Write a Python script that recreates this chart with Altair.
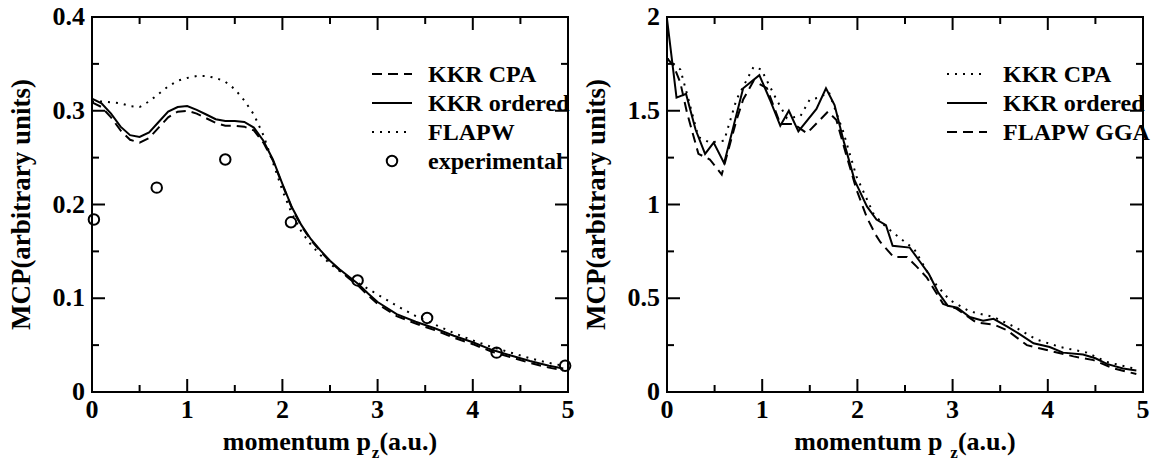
import altair as alt
import pandas as pd

# ---------------- data ----------------
# Left panel
L_x = [0, 0.1, 0.2, 0.3, 0.4, 0.5, 0.6, 0.7, 0.8, 0.9, 1.0, 1.1, 1.2, 1.3, 1.4, 1.5,
       1.6, 1.7, 1.8, 1.9, 2.0, 2.1, 2.2, 2.3, 2.4, 2.5, 2.6, 2.7, 2.8, 2.9, 3.0,
       3.2, 3.4, 3.6, 3.8, 4.0, 4.2, 4.4, 4.6, 4.8, 4.95]
L_kkr_cpa = [0.309, 0.304, 0.293, 0.279, 0.269, 0.266, 0.271, 0.282, 0.293, 0.299, 0.300,
             0.297, 0.292, 0.287, 0.284, 0.284, 0.283, 0.279, 0.266, 0.247, 0.221, 0.196,
             0.177, 0.162, 0.150, 0.139, 0.130, 0.121, 0.113, 0.103, 0.094, 0.081, 0.073,
             0.066, 0.058, 0.051, 0.043, 0.037, 0.031, 0.026, 0.023]
L_kkr_ord = [0.313, 0.308, 0.297, 0.283, 0.274, 0.272, 0.277, 0.288, 0.299, 0.304, 0.305,
             0.301, 0.296, 0.291, 0.289, 0.289, 0.288, 0.282, 0.268, 0.248, 0.222, 0.197,
             0.178, 0.163, 0.151, 0.140, 0.131, 0.123, 0.115, 0.105, 0.096, 0.083, 0.075,
             0.068, 0.060, 0.053, 0.045, 0.039, 0.033, 0.028, 0.025]
L_flapw = [0.310, 0.310, 0.309, 0.308, 0.305, 0.304, 0.310, 0.318, 0.326, 0.332, 0.335,
           0.337, 0.337, 0.335, 0.331, 0.323, 0.311, 0.296, 0.274, 0.245, 0.215, 0.190,
           0.171, 0.157, 0.146, 0.137, 0.129, 0.122, 0.116, 0.110, 0.104, 0.092, 0.081,
           0.072, 0.063, 0.055, 0.048, 0.042, 0.036, 0.031, 0.028]
L_exp_x = [0.02, 0.68, 1.40, 2.09, 2.79, 3.52, 4.25, 4.97]
L_exp_y = [0.184, 0.218, 0.248, 0.181, 0.119, 0.079, 0.042, 0.028]

# Right panel
R_ord_x = [0, 0.1, 0.2, 0.3, 0.4, 0.49, 0.6, 0.7, 0.8, 0.97, 1.08, 1.19, 1.28, 1.38,
           1.57, 1.67, 1.76, 1.86, 1.97, 2.1, 2.2, 2.3, 2.37, 2.55, 2.65, 2.75, 2.85,
           2.95, 3.05, 3.18, 3.32, 3.43, 3.57, 3.7, 3.85, 4.02, 4.16, 4.37, 4.5, 4.62,
           4.79, 4.93]
R_ord_y = [1.99, 1.57, 1.59, 1.40, 1.27, 1.33, 1.22, 1.42, 1.62, 1.69, 1.56, 1.42, 1.50,
           1.39, 1.51, 1.62, 1.53, 1.33, 1.13, 0.99, 0.92, 0.89, 0.78, 0.77, 0.70, 0.63,
           0.53, 0.46, 0.45, 0.40, 0.38, 0.39, 0.35, 0.31, 0.26, 0.24, 0.21, 0.20, 0.18,
           0.15, 0.125, 0.115]
R_gga_x = [0, 0.07, 0.14, 0.21, 0.33, 0.45, 0.575, 0.73, 0.8, 0.91, 1.05, 1.19, 1.33,
           1.47, 1.69, 1.78, 1.88, 1.99, 2.1, 2.19, 2.24, 2.38, 2.52, 2.62, 2.73, 2.9,
           3.04, 3.25, 3.43, 3.57, 3.78, 4.02, 4.27, 4.48, 4.69, 4.93]
R_gga_y = [1.78, 1.74, 1.65, 1.49, 1.27, 1.24, 1.16, 1.45, 1.56, 1.66, 1.62, 1.43, 1.43,
           1.38, 1.495, 1.45, 1.27, 1.08, 0.93, 0.84, 0.80, 0.72, 0.72, 0.67, 0.61, 0.47,
           0.445, 0.37, 0.36, 0.33, 0.25, 0.22, 0.19, 0.17, 0.126, 0.096]
R_cpa_x = [0, 0.07, 0.14, 0.21, 0.33, 0.45, 0.6, 0.73, 0.91, 0.99, 1.15, 1.26, 1.4, 1.5,
           1.6, 1.7, 1.85, 1.99, 2.17, 2.3, 2.45, 2.6, 2.78, 2.97, 3.18, 3.43, 3.64,
           3.88, 4.13, 4.41, 4.62, 4.9]
R_cpa_y = [1.78, 1.75, 1.72, 1.59, 1.36, 1.33, 1.34, 1.56, 1.735, 1.72, 1.56, 1.46, 1.47,
           1.56, 1.57, 1.60, 1.39, 1.15, 0.95, 0.88, 0.82, 0.76, 0.60, 0.49, 0.43, 0.40,
           0.35, 0.28, 0.24, 0.21, 0.16, 0.126]

X_MAJOR = [0, 1, 2, 3, 4, 5]
X_MINOR = [0.5, 1.5, 2.5, 3.5, 4.5]
L_Y_MAJOR = [0, 0.1, 0.2, 0.3, 0.4]
L_Y_MINOR = [0.05, 0.15, 0.25, 0.35]
R_Y_MAJOR = [0, 0.5, 1, 1.5, 2]
R_Y_MINOR = [0.25, 0.75, 1.25, 1.75]

L_LEGEND = ["KKR CPA", "KKR ordered", "FLAPW", "experimental"]
R_LEGEND = ["KKR CPA", "KKR ordered", "FLAPW GGA"]
Y_TITLE = "MCP(arbitrary units)"
X_TITLE = ["momentum p", "z", "(a.u.)"]

# ---------------- styling ----------------
W, H, GAP = 476, 375, 99
WT = 2 * W + GAP
FONT = "Liberation Serif"
TICK_FS = 26
TITLE_FS = 26
YTITLE_FS = 27
SUB_FS = 17
LEG_FS = 24
DASH = [10, 6]
DOT = [2, 6]
MAJ, MIN = 13, 7
XDOM = [0, 5]

# Times-Bold advance widths (em) for placing the subscript
TB = {"m": .833, "o": .5, "e": .444, "n": .556, "t": .333, "u": .556, " ": .25, "p": .556,
      "z": .444, "(": .333, "a": .5, ".": .25, ")": .333}


def tw(s, fs):
    return sum(TB.get(c, .5) for c in s) * fs


def panel_layers(ox, ydom, ymaj, ymin, series, circles, legend, sub_gap):
    xs = alt.Scale(domain=XDOM, range=[ox, ox + W], nice=False, zero=False)
    ys = alt.Scale(domain=ydom, range=[H, 0], nice=False, zero=False)

    def X(f="x"):
        return alt.X(f"{f}:Q", scale=xs, axis=None)

    def Y(f="y"):
        return alt.Y(f"{f}:Q", scale=ys, axis=None)

    layers = []
    # frame
    fr = pd.DataFrame({"x": [XDOM[0]], "x2": [XDOM[1]], "y": [ydom[0]], "y2": [ydom[1]]})
    layers.append(alt.Chart(fr).mark_rect(filled=False, color="black", strokeWidth=2)
                  .encode(x=X(), x2=alt.X2("x2:Q"), y=Y(), y2=alt.Y2("y2:Q")))
    # inward ticks on all four sides (pixel lengths converted to data units)
    yspan = ydom[1] - ydom[0]
    xspan = XDOM[1] - XDOM[0]
    for vals, ln in ((X_MAJOR, MAJ), (X_MINOR, MIN)):
        d = ln / H * yspan
        for a, b in ((ydom[0], ydom[0] + d), (ydom[1], ydom[1] - d)):
            df = pd.DataFrame({"x": vals})
            df["y"] = a
            df["y2"] = b
            layers.append(alt.Chart(df).mark_rule(color="black", strokeWidth=2)
                          .encode(x=X(), y=Y(), y2=alt.Y2("y2:Q")))
    for vals, ln in ((ymaj, MAJ), (ymin, MIN)):
        d = ln / W * xspan
        for a, b in ((XDOM[0], XDOM[0] + d), (XDOM[1], XDOM[1] - d)):
            df = pd.DataFrame({"y": vals})
            df["x"] = a
            df["x2"] = b
            layers.append(alt.Chart(df).mark_rule(color="black", strokeWidth=2)
                          .encode(y=Y(), x=X(), x2=alt.X2("x2:Q")))
    # tick labels
    dfx = pd.DataFrame({"x": X_MAJOR})
    dfx["y"] = ydom[0]
    layers.append(alt.Chart(dfx).mark_text(font=FONT, fontSize=TICK_FS, fontWeight="bold",
                                           align="center", baseline="top", dy=5,
                                           color="black")
                  .encode(x=X(), y=Y(), text=alt.Text("x:Q", format="~g")))
    dfy = pd.DataFrame({"y": ymaj})
    dfy["x"] = XDOM[0]
    layers.append(alt.Chart(dfy).mark_text(font=FONT, fontSize=TICK_FS, fontWeight="bold",
                                           align="right", baseline="middle", dx=-7,
                                           color="black")
                  .encode(x=X(), y=Y(), text=alt.Text("y:Q", format="~g")))
    # curves
    for xv, yv, dash in series:
        df = pd.DataFrame({"x": xv, "y": yv})
        kw = {"strokeDash": dash} if dash else {}
        layers.append(alt.Chart(df).mark_line(color="black", strokeWidth=2, **kw)
                      .encode(x=X(), y=Y()))
    if circles:
        df = pd.DataFrame({"x": circles[0], "y": circles[1]})
        layers.append(alt.Chart(df).mark_point(shape="circle", filled=False, size=110,
                                               color="black", strokeWidth=2, opacity=1)
                      .encode(x=X(), y=Y()))
    # legend
    for i, (lab, kind) in enumerate(legend):
        yy = 57 + i * 29
        one = pd.DataFrame({"label": [lab]})
        if kind == "circle":
            layers.append(alt.Chart(one).mark_point(shape="circle", filled=False, size=110,
                                                    color="black", strokeWidth=2, opacity=1)
                          .encode(x=alt.value(ox + 300), y=alt.value(yy)))
        else:
            kw = {"strokeDash": kind} if kind != "solid" else {}
            layers.append(alt.Chart(one).mark_rule(color="black", strokeWidth=2, **kw)
                          .encode(x=alt.value(ox + 280), x2=alt.value(ox + 320),
                                  y=alt.value(yy)))
        layers.append(alt.Chart(one).mark_text(font=FONT, fontSize=LEG_FS, fontWeight="bold",
                                               align="left", baseline="middle", color="black")
                      .encode(text="label:N", x=alt.value(ox + 336), y=alt.value(yy + 1)))
    # y title
    yt = pd.DataFrame({"t": [Y_TITLE]})
    layers.append(alt.Chart(yt).mark_text(font=FONT, fontSize=YTITLE_FS, fontWeight="bold",
                                          angle=270, align="center", baseline="middle",
                                          color="black")
                  .encode(text="t:N", x=alt.value(ox - 70), y=alt.value(H / 2)))
    # x title with subscript
    w1 = tw(X_TITLE[0], TITLE_FS)
    w2 = tw(X_TITLE[1], SUB_FS)
    w3 = tw(X_TITLE[2], TITLE_FS)
    total = w1 + sub_gap + w2 + w3
    x0 = ox + W / 2 - total / 2
    base = H + 58
    parts = [(X_TITLE[0], x0, base, TITLE_FS),
             (X_TITLE[1], x0 + w1 + sub_gap, base + 8, SUB_FS),
             (X_TITLE[2], x0 + w1 + sub_gap + w2, base, TITLE_FS)]
    for txt, px, py, fs in parts:
        d = pd.DataFrame({"t": [txt]})
        layers.append(alt.Chart(d).mark_text(font=FONT, fontSize=fs, fontWeight="bold",
                                             align="left", baseline="alphabetic",
                                             color="black")
                      .encode(text="t:N", x=alt.value(px), y=alt.value(py)))
    return layers


left = panel_layers(0, [0, 0.4], L_Y_MAJOR, L_Y_MINOR,
                    [(L_x, L_kkr_cpa, DASH), (L_x, L_kkr_ord, None), (L_x, L_flapw, DOT)],
                    (L_exp_x, L_exp_y),
                    [(L_LEGEND[0], DASH), (L_LEGEND[1], "solid"), (L_LEGEND[2], DOT),
                     (L_LEGEND[3], "circle")], 1)
right = panel_layers(W + GAP, [0, 2], R_Y_MAJOR, R_Y_MINOR,
                     [(R_cpa_x, R_cpa_y, DOT), (R_ord_x, R_ord_y, None),
                      (R_gga_x, R_gga_y, DASH)],
                     None,
                     [(R_LEGEND[0], DOT), (R_LEGEND[1], "solid"), (R_LEGEND[2], DASH)], 8)

chart = (alt.layer(*(left + right))
         .resolve_scale(x="independent", y="independent")
         .properties(width=WT, height=H,
                     autosize=alt.AutoSizeParams(type="none"),
                     padding={"left": 92, "top": 17, "right": 12, "bottom": 72},
                     background="white")
         .configure_view(stroke="transparent"))

chart.save("out.html", embed_options={"renderer": "svg", "actions": False})
